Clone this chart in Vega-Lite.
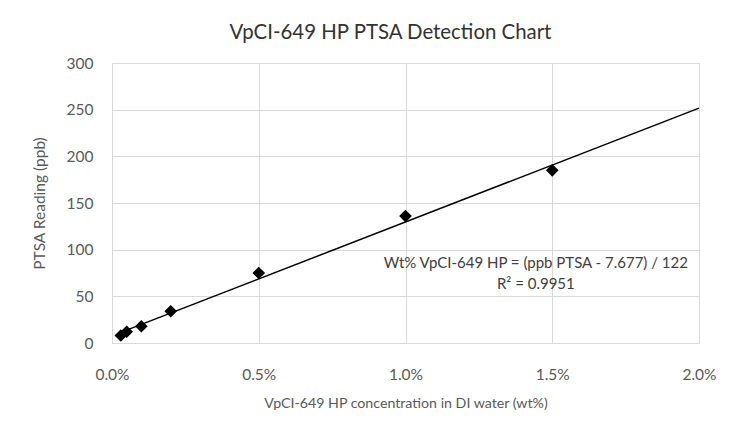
{
  "$schema": "https://vega.github.io/schema/vega-lite/v6.json",
  "width": 587,
  "height": 280,
  "autosize": "none",
  "padding": {"left": 112, "top": 63, "right": 44, "bottom": 78},
  "background": "white",
  "config": {"font": "Lato", "view": {"stroke": null}},
  "title": {
    "text": "VpCI-649 HP PTSA Detection Chart",
    "fontSize": 20.4,
    "fontWeight": "normal",
    "color": "#333333",
    "anchor": "middle",
    "dx": -15,
    "offset": 13
  },
  "datasets": {
    "points": [
      {"conc": 0.0003, "ppb": 8},
      {"conc": 0.0005, "ppb": 12},
      {"conc": 0.001, "ppb": 18},
      {"conc": 0.002, "ppb": 34},
      {"conc": 0.005, "ppb": 75},
      {"conc": 0.01, "ppb": 136},
      {"conc": 0.015, "ppb": 185}
    ],
    "trend": [
      {"conc": 0.0003, "ppb": 11.337},
      {"conc": 0.02, "ppb": 251.677}
    ],
    "notes": [
      {"conc": 0.01444, "ppb": 85.7, "label": "Wt% VpCI-649 HP = (ppb PTSA - 7.677) / 122"},
      {"conc": 0.01444, "ppb": 63.2, "label": "R² = 0.9951"}
    ]
  },
  "encoding": {
    "x": {
      "field": "conc",
      "type": "quantitative",
      "scale": {"domain": [0, 0.02], "nice": false, "zero": true},
      "axis": {
        "values": [0, 0.005, 0.01, 0.015, 0.02],
        "format": ".1%",
        "title": "VpCI-649 HP concentration in DI water (wt%)",
        "grid": true,
        "gridColor": "#d9d9d9",
        "domainColor": "#d9d9d9",
        "ticks": false,
        "labelFlush": false,
        "labelColor": "#595959",
        "labelFontSize": 15.5,
        "labelPadding": 24,
        "titleColor": "#595959",
        "titleFontSize": 14.2,
        "titleFontWeight": "normal",
        "titlePadding": 14
      }
    },
    "y": {
      "field": "ppb",
      "type": "quantitative",
      "scale": {"domain": [0, 300], "nice": false},
      "axis": {
        "values": [0, 50, 100, 150, 200, 250, 300],
        "title": "PTSA Reading (ppb)",
        "grid": true,
        "gridColor": "#d9d9d9",
        "domain": false,
        "ticks": false,
        "labelColor": "#595959",
        "labelFontSize": 15.5,
        "labelPadding": 19,
        "titleColor": "#595959",
        "titleFontSize": 15.5,
        "titleFontWeight": "normal",
        "titlePadding": 19
      }
    }
  },
  "layer": [
    {
      "data": {"name": "trend"},
      "mark": {"type": "line", "color": "black", "strokeWidth": 1.5}
    },
    {
      "data": {"name": "points"},
      "mark": {"type": "point", "shape": "diamond", "filled": true, "size": 160, "color": "black", "opacity": 1}
    },
    {
      "data": {"name": "notes"},
      "mark": {"type": "text", "fontSize": 15, "color": "#404040", "align": "center", "baseline": "middle"},
      "encoding": {"text": {"field": "label"}}
    }
  ]
}
